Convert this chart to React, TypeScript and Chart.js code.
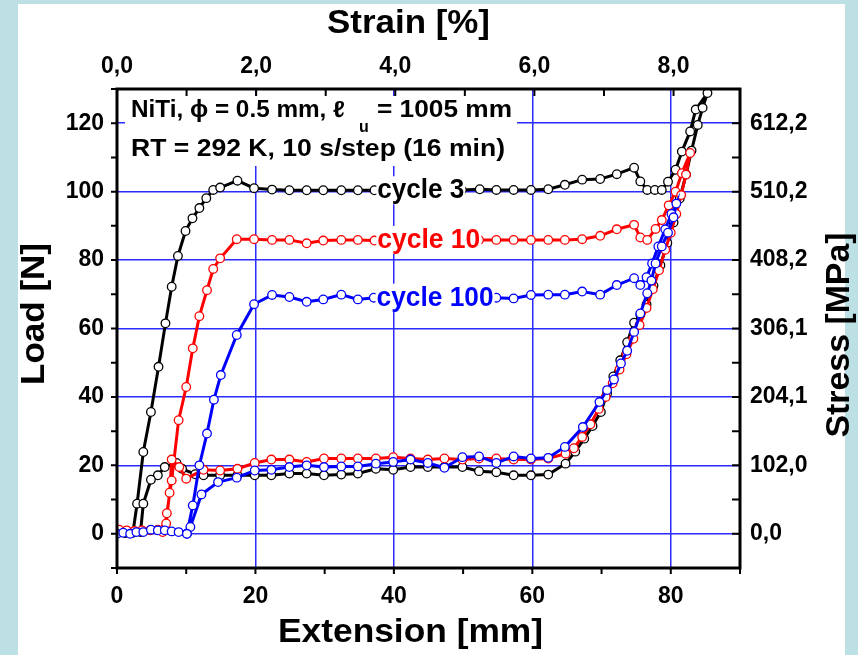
import React, { useEffect, useRef } from 'react';
import { Chart, registerables } from 'chart.js';

Chart.register(...registerables);

// ---------------- data ----------------
const seriesNames = ['cycle 3', 'cycle 10', 'cycle 100'];

// cycle 3 (black): extension [mm] / load [N]
const c3Ext = [
  0.2, 1.2, 2.3,
  2.9, 3.8, 4.9, 6.0, 7.0, 7.9, 8.8, 9.9, 10.9, 11.9, 12.9, 13.9, 14.9, 17.4, 19.8, 22.4, 24.9, 27.4, 29.8, 32.4, 34.8,
  37.2, 39.7, 42.2, 44.7, 47.2, 49.8, 52.4, 54.8, 57.3, 59.8, 62.3, 64.7, 67.2, 69.8, 72.2, 74.7, 75.6, 76.6, 77.7, 78.7,
  79.6, 80.7, 81.6, 82.8, 83.6, 85.3,
  84.6, 83.9, 83.0, 82.2, 81.3, 80.4, 79.5, 78.5, 77.5, 76.5, 75.6, 74.7, 73.7, 72.7, 71.7, 70.8, 69.9, 68.7, 67.5, 66.2,
  64.8, 62.3, 59.8, 57.3, 54.8, 52.3, 49.9, 47.3, 44.9, 42.4, 39.9, 37.4, 34.8, 32.4, 29.9, 27.4, 24.9, 22.3, 19.9, 17.4,
  14.9, 12.5, 11.3, 9.4, 8.6, 6.9, 5.9, 4.9, 3.8, 3.4,
];
const c3Load = [
  0.3, 0.2, 0.3,
  8.8, 23.9, 35.6, 48.8, 61.5, 72.2, 81.2, 88.5, 92.2, 95.2, 98.1, 100.5, 101.2, 103.2, 101.0, 100.6, 100.4, 100.4, 100.4, 100.4, 100.4,
  100.4, 100.4, 100.4, 100.4, 100.4, 100.5, 100.7, 100.5, 100.5, 100.5, 100.7, 102.0, 103.5, 103.7, 105.1, 107.0, 103.0, 100.5, 100.5, 100.5,
  102.9, 106.4, 111.7, 117.6, 124.0, 128.8,
  124.5, 119.5, 112.0, 105.0, 98.0, 91.0, 85.0, 78.5, 72.5, 67.0, 64.0, 61.7, 56.0, 50.7, 46.0, 41.0, 35.6, 31.5, 27.8, 24.0,
  20.5, 17.3, 17.1, 17.1, 18.0, 18.3, 19.5, 19.5, 19.5, 19.5, 18.7, 19.0, 17.6, 17.3, 17.1, 17.6, 17.6, 17.1, 17.1, 17.1,
  17.1, 17.1, 17.4, 19.0, 20.7, 19.5, 17.1, 15.8, 8.8, 0.5,
];

// cycle 10 (red)
const c10Ext = [
  0.3, 1.4, 2.5, 3.6, 4.8, 5.9, 6.9,
  7.2, 7.9, 8.9, 10.0, 10.95, 11.9, 13.0, 13.9, 14.9, 17.3, 19.8, 22.4, 24.9, 27.4, 29.8, 32.4, 34.8, 37.2, 39.7, 42.2,
  44.7, 47.2, 49.8, 52.3, 54.8, 57.3, 59.8, 62.3, 64.7, 67.2, 69.8, 72.2, 74.7, 75.6, 76.6, 77.8, 78.7, 79.7, 80.7, 81.6, 82.8,
  82.2, 81.5, 80.8, 80.0, 79.2, 78.3, 77.4, 76.5, 75.5, 74.6, 73.6, 72.6, 71.6, 70.6, 69.6, 68.4, 67.2, 66.0,
  64.8, 62.3, 59.8, 57.3, 54.8, 52.3, 49.9, 47.3, 44.9, 42.4, 39.9, 37.4, 34.8, 32.4, 29.9, 27.4, 24.9, 22.3, 19.9, 17.4,
  14.9, 12.5, 10.0, 9.0, 7.9, 7.6, 7.1, 6.6,
];
const c10Load = [
  1.2, 1.0, 0.8, 1.0, 1.0, 1.2, 1.5,
  6.0, 15.6, 33.2, 42.9, 54.2, 63.6, 71.2, 77.4, 80.5, 86.1, 86.1, 85.9, 85.9, 84.9, 85.7, 85.9, 85.9, 85.7, 85.9, 85.9,
  85.9, 85.9, 85.9, 85.9, 85.9, 85.9, 85.9, 85.9, 85.9, 86.1, 87.1, 89.0, 90.3, 86.6, 85.9, 89.1, 91.7, 96.0, 100.0, 105.4, 111.3,
  105.0, 99.0, 93.5, 88.0, 83.0, 77.0, 71.5, 66.0, 61.0, 57.0, 52.5, 48.0, 44.0, 40.0, 36.5, 32.0, 28.3, 25.0,
  23.4, 22.0, 21.7, 21.7, 22.0, 22.0, 21.7, 22.0, 21.7, 22.0, 22.4, 22.0, 22.0, 22.0, 22.0, 21.0, 21.7, 21.7, 20.7, 19.0,
  18.5, 18.7, 16.1, 19.5, 21.7, 12.0, 3.0, 0.5,
];

// cycle 100 (blue)
const c100Ext = [
  0.0, 0.9, 1.9, 2.8, 3.8, 4.9, 5.9, 6.9, 7.9, 8.9, 10.1,
  10.95, 11.9, 13.0, 14.0, 15.0, 17.3, 19.8, 22.4, 24.9, 27.4, 29.8, 32.4, 34.8, 37.1, 39.7, 42.2, 44.7, 47.2, 49.7,
  52.2, 54.8, 57.3, 59.8, 62.3, 64.7, 67.2, 69.8, 72.2, 74.7, 75.6, 76.5, 77.3, 78.2, 79.2, 80.1, 80.8,
  80.4, 79.6, 78.7, 77.8, 77.2, 76.6, 75.6, 74.7, 73.7, 72.8, 71.8, 70.8, 69.7, 67.3,
  64.7, 62.3, 59.8, 57.3, 54.8, 52.3, 49.9, 47.3, 44.9, 42.4, 39.9, 37.4, 34.8, 32.4, 29.9, 27.4, 24.9, 22.3, 19.9,
  17.3, 14.6, 12.2, 10.6, 10.1,
];
const c100Load = [
  0.0, 0.3, 0.0, 0.5, 0.5, 1.2, 1.0, 1.0, 0.7, 0.5, 0.0,
  8.3, 20.0, 29.3, 39.2, 46.4, 58.1, 67.1, 69.8, 69.2, 67.8, 68.5, 69.9, 68.5, 69.0, 69.0, 69.0, 69.0, 69.0, 69.0,
  69.0, 69.0, 68.8, 69.8, 69.9, 69.9, 70.8, 69.9, 72.7, 74.7, 72.7, 75.0, 79.0, 84.0, 89.0, 93.5, 96.5,
  92.5, 88.0, 84.0, 79.0, 74.0, 70.3, 64.4, 59.0, 53.5, 49.8, 45.1, 42.0, 38.5, 31.2,
  25.4, 22.2, 22.0, 22.6, 20.7, 22.6, 22.4, 19.3, 20.7, 21.7, 21.0, 20.5, 19.7, 19.7, 19.5, 20.0, 19.5, 18.7, 18.5,
  16.4, 15.1, 11.5, 2.0, 0.0,
];

// axes
const extTicks = [0, 20, 40, 60, 80];
const loadTicks = [0, 20, 40, 60, 80, 100, 120];
const stressLabels = ['0,0', '102,0', '204,1', '306,1', '408,2', '510,2', '612,2'];
const strainTicks = [0, 2, 4, 6, 8];
const strainLabels = ['0,0', '2,0', '4,0', '6,0', '8,0'];
const gaugeLengthMm = 1005;
const extRange = [0, 90];
const loadRange = [-10, 130];

const annotationLine1a = 'NiTi, ϕ = 0.5 mm, ℓ';
const annotationSub = 'u';
const annotationLine1b = '= 1005 mm';
const annotationLine2 = 'RT = 292 K, 10 s/step (16 min)';

// ---------------- styling ----------------
const FONT = '"Liberation Sans", Arial, Helvetica, sans-serif';
const GRID = '#2b2bff';
const COLORS = ['#000000', '#ff0000', '#0000ff'];

const pts = (xs: number[], ys: number[]) => xs.map((x, i) => ({ x, y: ys[i] }));

function ds(label: string, xs: number[], ys: number[], color: string) {
  return {
    label,
    data: pts(xs, ys),
    borderColor: color,
    backgroundColor: color,
    borderWidth: 3,
    pointRadius: 4.3,
    pointBorderWidth: 1.3,
    pointBackgroundColor: '#ffffff',
    pointBorderColor: color,
    tension: 0,
    fill: false,
  };
}

function txt(ctx: CanvasRenderingContext2D, s: string, x: number, y: number, size: number, width?: number) {
  ctx.font = `bold ${size}px ${FONT}`;
  if (!width) {
    ctx.fillText(s, x, y);
    return;
  }
  const m = ctx.measureText(s).width;
  ctx.save();
  ctx.translate(x, y);
  ctx.scale(width / m, 1);
  ctx.fillText(s, 0, 0);
  ctx.restore();
}

const decorPlugin = {
  id: 'decor',
  afterDatasetsDraw(chart: any) {
    const { ctx, chartArea: a, scales } = chart;
    const sx = scales.x;
    const sy = scales.y;
    ctx.save();

    // cycle labels with white boxes
    const labelDefs = [
      { name: seriesNames[0], ext: 37.6, load: c3Load[25], w: 87, color: COLORS[0] },
      { name: seriesNames[1], ext: 37.6, load: c10Load[26], w: 103, color: COLORS[1] },
      { name: seriesNames[2], ext: 37.5, load: c100Load[25], w: 117, color: COLORS[2] },
    ];
    ctx.textAlign = 'left';
    ctx.textBaseline = 'alphabetic';
    for (const d of labelDefs) {
      const x = sx.getPixelForValue(d.ext);
      const base = sy.getPixelForValue(d.load) + 8;
      ctx.fillStyle = '#ffffff';
      ctx.fillRect(x - 1, base - 22, d.w + 2, 28);
      ctx.fillStyle = d.color;
      txt(ctx, d.name, x, base, 27, d.w);
    }

    // annotation box
    ctx.fillStyle = '#ffffff';
    ctx.fillRect(a.left + 8, a.top + 7, 392, 70);
    ctx.fillStyle = '#000000';
    txt(ctx, annotationLine1a, 131, 117, 23, 214);
    txt(ctx, annotationSub, 359, 132, 16);
    txt(ctx, annotationLine1b, 377, 117, 23, 135);
    txt(ctx, annotationLine2, 131, 156, 23, 374);

    // frame
    ctx.strokeStyle = '#000000';
    ctx.lineWidth = 3;
    ctx.strokeRect(a.left, a.top, a.right - a.left, a.bottom - a.top);

    // tick marks
    ctx.lineWidth = 2;
    ctx.beginPath();
    for (let v = loadRange[0]; v <= loadRange[1]; v += 10) {
      const y = sy.getPixelForValue(v);
      ctx.moveTo(a.left - 6, y); ctx.lineTo(a.left, y);
      ctx.moveTo(a.right - 8, y); ctx.lineTo(a.right, y);
    }
    for (let v = extRange[0]; v <= extRange[1]; v += 10) {
      const x = sx.getPixelForValue(v);
      ctx.moveTo(x, a.bottom); ctx.lineTo(x, a.bottom + 6);
    }
    for (let s = 0; s <= 8; s += 1) {
      const x = sx.getPixelForValue((s * gaugeLengthMm) / 100);
      ctx.moveTo(x, a.top); ctx.lineTo(x, a.top + 7);
    }
    ctx.stroke();

    // axis titles
    ctx.fillStyle = '#000000';
    ctx.textAlign = 'center';
    ctx.textBaseline = 'middle';
    ctx.save(); ctx.translate(408.5, 24); txt(ctx, 'Strain [%]', 0, 0, 34, 163); ctx.restore();
    ctx.save(); ctx.translate(410.5, 633); txt(ctx, 'Extension [mm]', 0, 0, 34, 265); ctx.restore();
    ctx.save(); ctx.translate(35, 314); ctx.rotate(-Math.PI / 2); txt(ctx, 'Load [N]', 0, 0, 34, 142); ctx.restore();
    ctx.save(); ctx.translate(840, 335); ctx.rotate(-Math.PI / 2); txt(ctx, 'Stress [MPa]', 0, 0, 34, 205); ctx.restore();

    ctx.restore();
  },
};

const tickFont = { family: FONT, size: 23, weight: 'bold' as const };

export default function App() {
  const ref = useRef<HTMLCanvasElement>(null);
  useEffect(() => {
    document.body.style.margin = '0';
    const chart = new Chart(ref.current as HTMLCanvasElement, {
      type: 'line',
      data: {
        datasets: [
          ds(seriesNames[2], c100Ext, c100Load, COLORS[2]),
          ds(seriesNames[1], c10Ext, c10Load, COLORS[1]),
          ds(seriesNames[0], c3Ext, c3Load, COLORS[0]),
        ] as any,
      },
      options: {
        animation: false,
        responsive: false,
        devicePixelRatio: 1,
        layout: { padding: 0 },
        plugins: { legend: { display: false }, tooltip: { enabled: false }, title: { display: false } },
        scales: {
          x: {
            type: 'linear',
            position: 'bottom',
            min: extRange[0],
            max: extRange[1],
            afterBuildTicks: (s: any) => { s.ticks = extTicks.map((v) => ({ value: v })); },
            afterFit: (s: any) => { s.height = 87; },
            grid: { color: GRID, lineWidth: 1.5, drawTicks: false },
            border: { display: false },
            ticks: { font: tickFont, color: '#000', padding: 15, maxRotation: 0, autoSkip: false },
          },
          x2: {
            type: 'linear',
            position: 'top',
            min: (extRange[0] / gaugeLengthMm) * 100,
            max: (extRange[1] / gaugeLengthMm) * 100,
            afterBuildTicks: (s: any) => { s.ticks = strainTicks.map((v) => ({ value: v })); },
            afterFit: (s: any) => { s.height = 89; },
            grid: { display: false, drawTicks: false },
            border: { display: false },
            ticks: {
              font: tickFont, color: '#000', padding: 9, maxRotation: 0, autoSkip: false,
              callback: (v: any) => strainLabels[strainTicks.indexOf(Number(v))],
            },
          },
          y: {
            type: 'linear',
            position: 'left',
            min: loadRange[0],
            max: loadRange[1],
            afterBuildTicks: (s: any) => { s.ticks = loadTicks.map((v) => ({ value: v })); },
            afterFit: (s: any) => { s.width = 117; },
            grid: { color: GRID, lineWidth: 1.5, drawTicks: false },
            border: { display: false },
            ticks: { font: tickFont, color: '#000', padding: 13, autoSkip: false },
          },
          y2: {
            type: 'linear',
            position: 'right',
            min: loadRange[0],
            max: loadRange[1],
            afterBuildTicks: (s: any) => { s.ticks = loadTicks.map((v) => ({ value: v })); },
            afterFit: (s: any) => { s.width = 118; },
            grid: { display: false, drawTicks: false },
            border: { display: false },
            ticks: {
              font: tickFont, color: '#000', padding: 10, autoSkip: false,
              callback: (v: any) => stressLabels[loadTicks.indexOf(Number(v))],
            },
          },
        },
      } as any,
      plugins: [decorPlugin],
    });
    return () => chart.destroy();
  }, []);

  return (
    <div style={{ position: 'relative', width: 858, height: 655, background: '#bde0e4', overflow: 'hidden' }}>
      <div style={{ position: 'absolute', left: 18, top: 4, width: 827, height: 651, background: '#ffffff' }} />
      <canvas ref={ref} width={858} height={655} style={{ position: 'absolute', left: 0, top: 0 }} />
    </div>
  );
}
